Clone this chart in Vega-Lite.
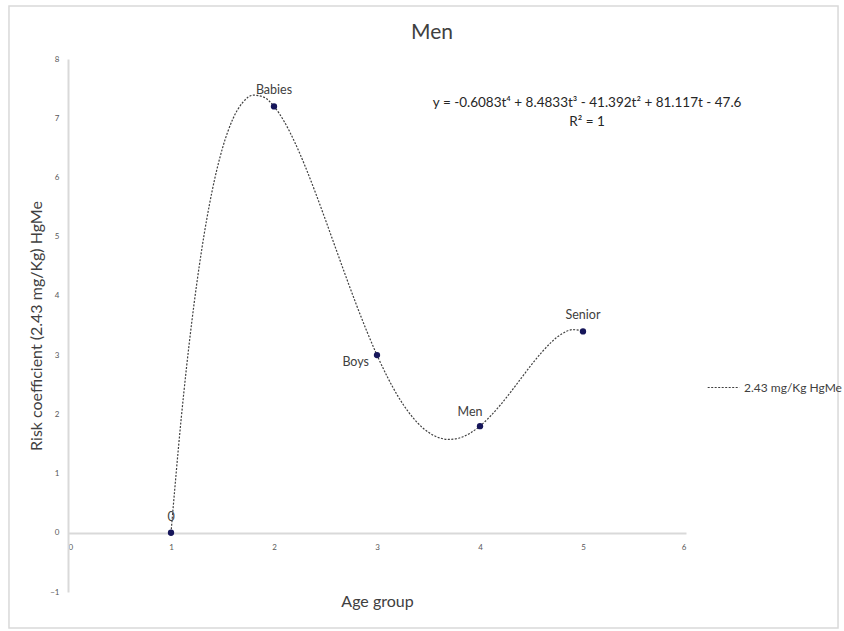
{
  "$schema": "https://vega.github.io/schema/vega-lite/v6.json",
  "width": 618,
  "height": 533,
  "autosize": "none",
  "padding": {"left": 68, "top": 59, "right": 158, "bottom": 39},
  "background": "white",
  "config": {
    "font": "Lato",
    "view": {"stroke": null},
    "axis": {"grid": false, "ticks": false, "domainColor": "#d9d9d9", "domainWidth": 2, "labelColor": "#595959", "labelFontSize": 8, "titleColor": "#404040", "titleFontSize": 16, "titleFontWeight": "normal", "labelFont": "Lato", "titleFont": "Lato"}
  },
  "title": {"text": "Men", "fontSize": 21, "fontWeight": "normal", "color": "#404040", "font": "Lato", "frame": "group", "anchor": "middle", "dx": 55, "offset": -38},
  "datasets": {
    "points": [
      {"x": 1, "y": 0, "label": "0"},
      {"x": 2, "y": 7.2, "label": "Babies"},
      {"x": 3, "y": 3, "label": "Boys"},
      {"x": 4, "y": 1.8, "label": "Men"},
      {"x": 5, "y": 3.4, "label": "Senior"}
    ],
    "curve": [
      {"x": 1.0, "y": 0.0, "series": "2.43 mg/Kg HgMe"},
      {"x": 1.1, "y": 1.945, "series": "2.43 mg/Kg HgMe"},
      {"x": 1.2, "y": 3.534, "series": "2.43 mg/Kg HgMe"},
      {"x": 1.3, "y": 4.800, "series": "2.43 mg/Kg HgMe"},
      {"x": 1.4, "y": 5.777, "series": "2.43 mg/Kg HgMe"},
      {"x": 1.5, "y": 6.495, "series": "2.43 mg/Kg HgMe"},
      {"x": 1.6, "y": 6.985, "series": "2.43 mg/Kg HgMe"},
      {"x": 1.7, "y": 7.274, "series": "2.43 mg/Kg HgMe"},
      {"x": 1.8, "y": 7.389, "series": "2.43 mg/Kg HgMe"},
      {"x": 1.9, "y": 7.357, "series": "2.43 mg/Kg HgMe"},
      {"x": 2.0, "y": 7.200, "series": "2.43 mg/Kg HgMe"},
      {"x": 2.1, "y": 6.941, "series": "2.43 mg/Kg HgMe"},
      {"x": 2.2, "y": 6.601, "series": "2.43 mg/Kg HgMe"},
      {"x": 2.3, "y": 6.199, "series": "2.43 mg/Kg HgMe"},
      {"x": 2.4, "y": 5.754, "series": "2.43 mg/Kg HgMe"},
      {"x": 2.5, "y": 5.282, "series": "2.43 mg/Kg HgMe"},
      {"x": 2.6, "y": 4.799, "series": "2.43 mg/Kg HgMe"},
      {"x": 2.7, "y": 4.317, "series": "2.43 mg/Kg HgMe"},
      {"x": 2.8, "y": 3.850, "series": "2.43 mg/Kg HgMe"},
      {"x": 2.9, "y": 3.408, "series": "2.43 mg/Kg HgMe"},
      {"x": 3.0, "y": 3.000, "series": "2.43 mg/Kg HgMe"},
      {"x": 3.1, "y": 2.634, "series": "2.43 mg/Kg HgMe"},
      {"x": 3.2, "y": 2.316, "series": "2.43 mg/Kg HgMe"},
      {"x": 3.3, "y": 2.052, "series": "2.43 mg/Kg HgMe"},
      {"x": 3.4, "y": 1.845, "series": "2.43 mg/Kg HgMe"},
      {"x": 3.5, "y": 1.696, "series": "2.43 mg/Kg HgMe"},
      {"x": 3.6, "y": 1.607, "series": "2.43 mg/Kg HgMe"},
      {"x": 3.7, "y": 1.576, "series": "2.43 mg/Kg HgMe"},
      {"x": 3.8, "y": 1.601, "series": "2.43 mg/Kg HgMe"},
      {"x": 3.9, "y": 1.678, "series": "2.43 mg/Kg HgMe"},
      {"x": 4.0, "y": 1.802, "series": "2.43 mg/Kg HgMe"},
      {"x": 4.1, "y": 1.967, "series": "2.43 mg/Kg HgMe"},
      {"x": 4.2, "y": 2.163, "series": "2.43 mg/Kg HgMe"},
      {"x": 4.3, "y": 2.381, "series": "2.43 mg/Kg HgMe"},
      {"x": 4.4, "y": 2.610, "series": "2.43 mg/Kg HgMe"},
      {"x": 4.5, "y": 2.838, "series": "2.43 mg/Kg HgMe"},
      {"x": 4.6, "y": 3.048, "series": "2.43 mg/Kg HgMe"},
      {"x": 4.7, "y": 3.231, "series": "2.43 mg/Kg HgMe"},
      {"x": 4.8, "y": 3.364, "series": "2.43 mg/Kg HgMe"},
      {"x": 4.9, "y": 3.430, "series": "2.43 mg/Kg HgMe"},
      {"x": 5.0, "y": 3.410, "series": "2.43 mg/Kg HgMe"}
    ],
    "annot": [
      {"x": 5.04, "y": 7.26, "text": "y = -0.6083t⁴ + 8.4833t³ - 41.392t² + 81.117t - 47.6"},
      {"x": 5.04, "y": 6.93, "text": "R² = 1"}
    ],
    "frame": [
      {"x": -0.573, "x2": 7.476, "y": 8.895, "y2": -1.608}
    ]
  },
  "encoding": {
    "x": {"field": "x", "type": "quantitative", "scale": {"domain": [0, 6], "nice": false, "zero": false},
      "axis": {"values": [0, 1, 2, 3, 4, 5, 6], "offset": -59, "labelPadding": 10, "title": "Age group", "titlePadding": 42}},
    "y": {"field": "y", "type": "quantitative", "scale": {"domain": [-1, 8], "nice": false, "zero": false},
      "axis": {"values": [-1, 0, 1, 2, 3, 4, 5, 6, 7, 8], "labelPadding": 9, "title": "Risk coefficient (2.43 mg/Kg) HgMe", "titlePadding": 5}}
  },
  "layer": [
    {
      "data": {"name": "frame"},
      "mark": {"type": "rect", "fill": null, "stroke": "#d9d9d9", "strokeWidth": 1.5, "clip": false},
      "encoding": {"x2": {"field": "x2"}, "y2": {"field": "y2"}}
    },
    {
      "data": {"name": "curve"},
      "mark": {"type": "line", "color": "#404040", "strokeWidth": 1.2, "interpolate": "monotone"},
      "encoding": {
        "strokeDash": {"field": "series", "type": "nominal", "scale": {"range": [[2, 1.5]]},
          "legend": {"title": null, "orient": "none", "legendX": 639, "legendY": 312, "symbolType": "stroke", "symbolSize": 1000, "symbolStrokeColor": "#404040", "symbolStrokeWidth": 1.2, "labelFontSize": 12, "labelColor": "#404040", "labelFont": "Lato"}}
      }
    },
    {
      "data": {"name": "points"},
      "mark": {"type": "circle", "size": 40, "color": "#16165a", "opacity": 1}
    },
    {
      "data": {"name": "points"},
      "transform": [{"filter": "datum.label == '0' || datum.label == 'Babies' || datum.label == 'Senior'"}],
      "mark": {"type": "text", "dy": -16, "fontSize": 12.5, "color": "#404040", "font": "Lato"},
      "encoding": {"text": {"field": "label"}}
    },
    {
      "data": {"name": "points"},
      "transform": [{"filter": "datum.label == 'Boys'"}],
      "mark": {"type": "text", "align": "right", "dx": -8, "dy": 7, "fontSize": 12.5, "color": "#404040", "font": "Lato"},
      "encoding": {"text": {"field": "label"}}
    },
    {
      "data": {"name": "points"},
      "transform": [{"filter": "datum.label == 'Men'"}],
      "mark": {"type": "text", "dx": -10, "dy": -14, "fontSize": 12.5, "color": "#404040", "font": "Lato"},
      "encoding": {"text": {"field": "label"}}
    },
    {
      "data": {"name": "annot"},
      "mark": {"type": "text", "fontSize": 13.5, "color": "#262626", "font": "Lato"},
      "encoding": {"text": {"field": "text"}}
    }
  ]
}
